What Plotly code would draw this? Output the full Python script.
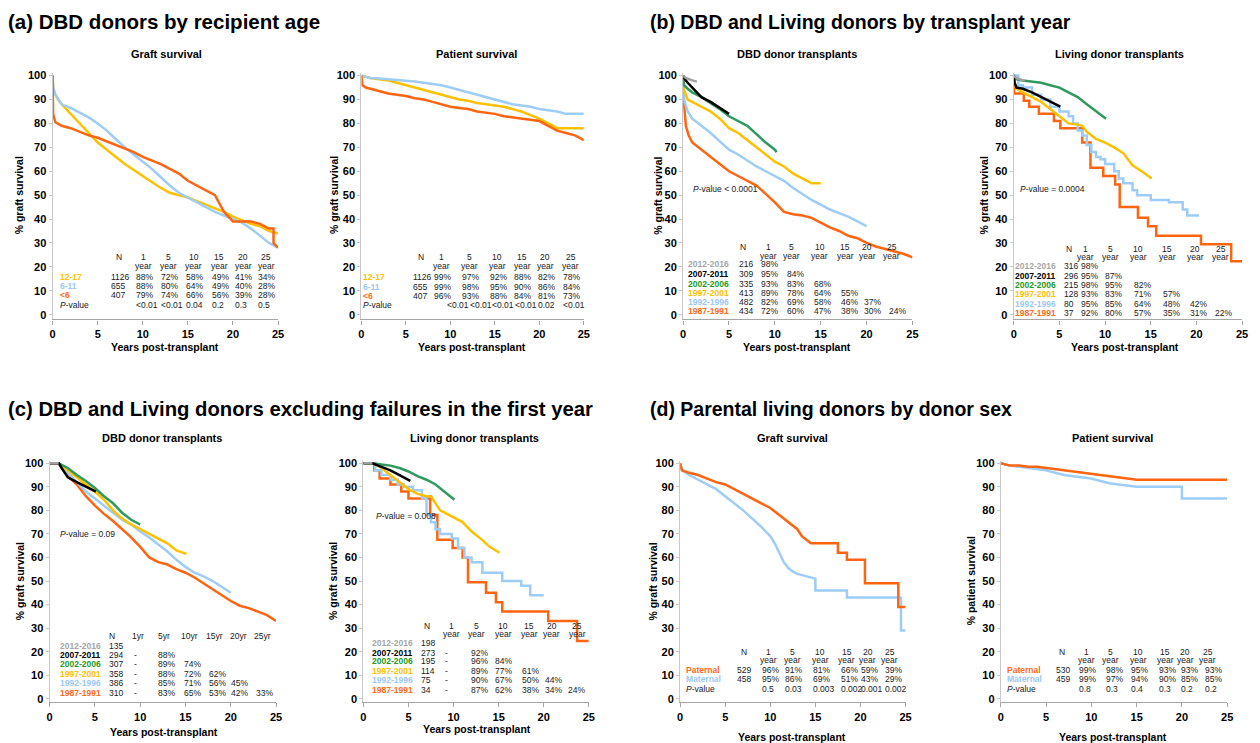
import plotly.graph_objects as go

W, H = 1260, 743
def fx(px): return px / W
def fy(py): return 1 - py / H

FONT = "Liberation Sans, Arial, Helvetica, sans-serif"
C_OR = "#FF6410"; C_BL = "#9DCDF7"; C_YE = "#FFC000"; C_GR = "#2F9A5E"; C_BK = "#000000"; C_GY = "#A0A0A0"
L_OR = "#FF6A1A"; L_BL = "#9CC8F2"; L_YE = "#FFC000"; L_GR = "#1C9A24"; L_BK = "#000000"; L_GY = "#A6A6A6"

# ---------------- data ----------------
x_ticks = [0, 5, 10, 15, 20, 25]
y_ticks = [0, 10, 20, 30, 40, 50, 60, 70, 80, 90, 100]
year_heads = ["1", "5", "10", "15", "20", "25"]
yr_heads = ["1yr", "5yr", "10yr", "15yr", "20yr", "25yr"]

# (a) DBD donors by recipient age - graft survival
a_graft_t_1217 = [0, 0.05, 0.3, 0.6, 1, 2, 3, 4, 5, 6, 7, 8, 9, 10, 11, 12, 13, 14, 15, 16, 17, 18, 19, 20, 21, 22, 23, 24, 25]
a_graft_v_1217 = [100, 95, 92, 90, 88, 84, 80, 76, 72, 69, 66, 63, 60.5, 58, 55.5, 53, 51, 50, 49, 47.5, 46, 44.5, 43, 41, 39.5, 38, 37, 35, 34]
a_graft_t_611 = [0, 0.05, 0.3, 1, 2, 3, 4, 5, 6, 7, 8, 9, 10, 11, 12, 13, 14, 15, 16, 17, 18, 19, 20, 21, 22, 23, 24, 25]
a_graft_v_611 = [100, 95, 92, 88, 86.5, 84.5, 82.5, 80, 77, 73.5, 70, 67, 64, 61, 57.5, 54, 51, 49, 47, 45, 43, 41.5, 40, 38.5, 36, 33, 30, 28]
a_graft_t_lt6 = [0, 0.05, 0.3, 1, 2, 3, 4, 5, 6, 7, 8, 9, 10, 11, 12, 13, 14, 15, 16, 17, 18, 18.5, 19, 19.5, 20, 21, 22, 23, 24, 24.5, 24.5, 25]
a_graft_v_lt6 = [100, 84, 80.5, 79, 78, 76.5, 75, 74, 72.5, 71, 69.5, 68, 66, 64.5, 63, 61, 59, 56, 54, 52, 50, 46.5, 43, 41, 39, 39, 39, 38, 36, 36, 30, 28]

# (a) patient survival
a_pat_t_1217 = [0, 0.5, 1, 2, 3, 4, 5, 6, 7, 8, 9, 10, 11, 12, 13, 14, 15, 16, 17, 18, 19, 20, 21, 22, 23, 24, 25]
a_pat_v_1217 = [100, 99.5, 99, 98.5, 98, 97, 96, 95, 94, 93, 92, 91, 90, 89.5, 88.5, 88, 87.5, 87, 86, 85, 83.5, 82, 80, 78, 78, 78, 78]
a_pat_t_611 = [0, 0.5, 1, 2, 3, 4, 5, 6, 7, 8, 9, 10, 11, 12, 13, 14, 15, 16, 17, 18, 19, 20, 21, 22, 23, 24, 25]
a_pat_v_611 = [100, 99.5, 99, 98.8, 98.5, 98.2, 98, 97.5, 97, 96.5, 96, 95, 94, 93, 92, 91, 90, 89, 88, 87.5, 87, 86, 85.5, 85, 84, 84, 84]
a_pat_t_lt6 = [0, 0.1, 0.5, 1, 2, 3, 4, 5, 6, 7, 8, 9, 10, 11, 12, 13, 14, 15, 16, 17, 18, 19, 20, 21, 22, 23, 24, 25]
a_pat_v_lt6 = [100, 96, 95, 94.5, 93.5, 92.5, 92, 91.5, 90.5, 90, 89, 88, 87, 86.5, 86, 85, 84.5, 84, 83, 82.5, 82, 81.5, 81, 79, 77, 76, 75, 73]

# (b) DBD donor transplants by era
b_dbd_t_8791 = [0, 0.1, 0.3, 0.6, 1, 2, 3, 4, 5, 6, 7, 8, 9, 10, 11, 12, 13, 14, 15, 16, 17, 18, 19, 20, 21, 22, 23, 24, 25]
b_dbd_v_8791 = [100, 88, 79, 75, 72, 69, 66, 63, 60, 58, 56, 54, 50.5, 47, 43, 42, 41.5, 40.5, 38.5, 36.5, 35, 33, 32, 30, 28.5, 27.5, 26.5, 25.5, 24]
b_dbd_t_9296 = [0, 0.1, 0.5, 1, 2, 3, 4, 5, 6, 7, 8, 9, 10, 11, 12, 13, 14, 15, 16, 17, 18, 19, 20]
b_dbd_v_9296 = [100, 90, 85, 82, 79, 76, 72.5, 69, 67, 64.5, 62, 60, 58, 56, 53, 50.5, 48, 46, 44, 42.5, 41, 39, 37]
b_dbd_t_9701 = [0, 0.1, 0.5, 1, 2, 3, 4, 5, 6, 7, 8, 9, 10, 11, 12, 13, 14, 15]
b_dbd_v_9701 = [100, 94, 90, 89, 87, 85, 82, 78, 76, 73, 70, 67, 64, 62, 59, 57, 55, 55]
b_dbd_t_0206 = [0, 0.1, 0.5, 1, 2, 3, 4, 5, 6, 7, 8, 9, 10, 10.2]
b_dbd_v_0206 = [100, 96, 94.5, 93, 91, 88.5, 86, 83, 81, 79, 75.5, 72, 69, 68]
b_dbd_t_0711 = [0, 0.2, 0.5, 1, 1.5, 2, 3, 4, 5]
b_dbd_v_0711 = [100, 98.5, 97, 95, 93, 91, 89, 86.5, 84]
b_dbd_t_1216 = [0, 0.3, 1, 1.5]
b_dbd_v_1216 = [100, 99, 98, 97.5]

# (b) Living donor transplants by era
b_liv_t_8791 = [0, 0.05, 1.1, 1.7, 2.75, 4.4, 5.1, 7.5, 8.4, 9.8, 11.1, 11.6, 13.6, 14.7, 15.6, 20.5, 23.8, 25]
b_liv_v_8791 = [100, 92.5, 89.5, 87, 84, 81, 78, 72, 61.5, 58, 54.5, 45, 40.5, 37, 33, 29.5, 22.3, 22.3]
b_liv_t_9296 = [0, 0.5, 1, 2, 3, 4, 5, 6, 6.5, 7, 7.5, 8, 8.5, 9, 9.5, 10, 11, 11.5, 12, 13, 13.5, 15, 17, 18.5, 19, 20.3]
b_liv_v_9296 = [100, 96, 95, 92, 90, 87, 85, 83, 80, 77, 75, 71, 68, 66, 65, 63, 60, 57, 55, 52, 50, 48, 47, 44, 41.5, 41.5]
b_liv_t_9701 = [0, 0.1, 0.5, 1, 2, 3, 4, 5, 6, 7, 7.5, 8, 9, 10, 11, 12, 13, 14, 15.1]
b_liv_v_9701 = [100, 96, 94, 93, 91, 89, 86, 83, 80, 79.5, 79, 76.5, 73.5, 72, 70, 67.5, 62.5, 60, 57]
b_liv_t_0206 = [0, 0.3, 1, 2, 3, 4, 5, 6, 7, 8, 9, 10.1]
b_liv_v_0206 = [100, 98.5, 98, 97.5, 97, 96, 95, 93, 91, 88, 85, 82]
b_liv_t_0711 = [0, 0.1, 0.3, 1, 2, 3, 4, 5.1]
b_liv_v_0711 = [100, 97, 95, 94.5, 93, 91, 89, 87]
b_liv_t_1216 = [0, 0.3, 1, 1.2]
b_liv_v_1216 = [100, 99, 98, 98]

# (c) DBD excluding first-year failures
c_dbd_t_8791 = [0, 1, 1.5, 2, 3, 4, 5, 6, 7, 8, 9, 10, 11, 12, 13, 14, 15, 16, 17, 18, 19, 20, 21, 22, 23, 24, 25]
c_dbd_v_8791 = [100, 100, 97, 94.5, 91, 86, 82, 78.5, 75.5, 72, 68.5, 64.5, 60, 58, 57, 55, 53.5, 51.5, 49, 46.5, 44, 41.5, 39.5, 38.5, 37, 35.5, 33]
c_dbd_t_9296 = [0, 1, 2, 3, 4, 5, 6, 7, 8, 9, 10, 11, 12, 13, 14, 15, 16, 17, 18, 19, 20]
c_dbd_v_9296 = [100, 100, 96, 92, 88, 85, 82, 79, 76, 74, 71, 68.5, 65.5, 62.5, 59, 56, 53.5, 52, 50, 47.5, 45]
c_dbd_t_9701 = [0, 1, 2, 3, 4, 5, 6, 7, 8, 9, 10, 11, 12, 13, 14, 15.1]
c_dbd_v_9701 = [100, 100, 97, 94, 91, 88, 84.5, 80, 76.5, 74, 72, 70, 68, 66, 63, 61.5]
c_dbd_t_0206 = [0, 1, 2, 3, 4, 5, 6, 7, 8, 9, 10]
c_dbd_v_0206 = [100, 100, 98, 95, 92.5, 89.5, 86, 83, 79, 76, 74]
c_dbd_t_0711 = [0, 1, 1.5, 2, 3, 4, 5.1]
c_dbd_v_0711 = [100, 100, 97, 94, 92, 90, 88]
c_dbd_t_1216 = [0, 1]
c_dbd_v_1216 = [100, 100]

# (c) Living excluding first-year failures
c_liv_t_8791 = [0, 1, 1.2, 1.8, 3, 4.2, 5, 7.4, 8.2, 9.9, 11, 11.6, 13.6, 14.7, 15.4, 20.5, 23.7, 25]
c_liv_v_8791 = [100, 100, 97, 93.5, 91, 88, 85, 78, 67.5, 64, 60, 49.5, 45, 41, 37, 33, 24.5, 24.5]
c_liv_t_9296 = [0, 1, 1.3, 2, 3, 3.8, 4.5, 5.5, 6.5, 7, 7.5, 8, 8.5, 9.8, 10.5, 11.2, 12, 13.2, 15.4, 17.5, 18.5, 20]
c_liv_v_9296 = [100, 100, 97, 95, 93, 91, 90, 88.5, 85, 78, 75, 72, 70, 68, 64, 60, 58, 53.5, 50, 48, 44, 44]
c_liv_t_9701 = [0, 1, 2, 3, 4, 5, 6, 7, 7.5, 8, 8.5, 9, 10, 11, 12, 13, 14, 15.1]
c_liv_v_9701 = [100, 100, 98, 95, 92, 89, 87, 86, 86, 83, 80, 79, 77, 75, 71, 68, 64.5, 62]
c_liv_t_0206 = [0, 1, 2, 3, 4, 5, 6, 7, 8, 9, 10.1]
c_liv_v_0206 = [100, 100, 99.5, 99, 98, 96.5, 94.5, 93, 91, 88, 84.5]
c_liv_t_0711 = [0, 1, 2, 3, 4, 5.2]
c_liv_v_0711 = [100, 100, 98.5, 97, 95, 92.5]
c_liv_t_1216 = [0, 1]
c_liv_v_1216 = [100, 100]

# (d) Parental living donors by donor sex
d_graft_t_pat = [0, 0.2, 1, 2, 3, 4, 5, 6, 7, 8, 9, 10, 11, 12, 13, 13.5, 14.5, 14.5, 17.5, 17.5, 18.5, 18.5, 20.5, 20.5, 24.2, 24.2, 25]
d_graft_v_pat = [100, 97, 96, 95, 93.5, 92, 91, 89, 87, 85, 83, 81, 78, 75, 72, 69, 66, 66, 66, 62, 62, 59, 59, 49, 49, 39, 39]
d_graft_t_mat = [0, 0.2, 1, 2, 3, 4, 5, 6, 7, 8, 9, 10, 10.5, 11, 11.5, 12, 12.5, 13, 14, 15, 15, 18.5, 18.5, 24.5, 24.5, 25]
d_graft_v_mat = [100, 97, 95, 93, 91, 89, 86, 83, 80, 76.5, 73, 69, 66, 62, 58, 55.5, 54, 53, 52, 51, 46, 46, 43, 43, 29, 29]
d_pat_t_pat = [0, 1, 2, 3, 4, 5, 6, 7, 8, 9, 10, 11, 12, 13, 14, 15, 25]
d_pat_v_pat = [100, 99, 99, 98.5, 98.5, 98, 97.5, 97, 96.5, 96, 95.5, 95, 94.5, 94, 93.5, 93, 93]
d_pat_t_mat = [0, 1, 2, 3, 4, 5, 6, 7, 8, 9, 10, 11, 12, 13, 14, 15, 20, 20, 25]
d_pat_v_mat = [100, 99, 98.5, 98, 97.5, 97, 96, 95, 94.5, 94, 93.5, 92.5, 91.5, 91, 90.5, 90, 90, 85, 85]

# ---- tables ----
age_groups = ["12-17", "6-11", "<6"]
a_graft_N = ["1126", "655", "407"]
a_graft_pct = [["88%", "72%", "58%", "49%", "41%", "34%"], ["88%", "80%", "64%", "49%", "40%", "28%"], ["79%", "74%", "66%", "56%", "39%", "28%"]]
a_graft_p = ["<0.01", "<0.01", "0.04", "0.2", "0.3", "0.5"]
a_pat_N = ["1126", "655", "407"]
a_pat_pct = [["99%", "97%", "92%", "88%", "82%", "78%"], ["99%", "98%", "95%", "90%", "86%", "84%"], ["96%", "93%", "88%", "84%", "81%", "73%"]]
a_pat_p = ["<0.01", "<0.01", "<0.01", "<0.01", "0.02", "<0.01"]

eras = ["2012-2016", "2007-2011", "2002-2006", "1997-2001", "1992-1996", "1987-1991"]
b_dbd_N = ["216", "309", "335", "413", "482", "434"]
b_dbd_pct = [["98%"], ["95%", "84%"], ["93%", "83%", "68%"], ["89%", "78%", "64%", "55%"], ["82%", "69%", "58%", "46%", "37%"], ["72%", "60%", "47%", "38%", "30%", "24%"]]
b_liv_N = ["316", "296", "215", "128", "80", "37"]
b_liv_pct = [["98%"], ["95%", "87%"], ["98%", "95%", "82%"], ["93%", "83%", "71%", "57%"], ["95%", "85%", "64%", "48%", "42%"], ["92%", "80%", "57%", "35%", "31%", "22%"]]
c_dbd_N = ["135", "294", "307", "358", "386", "310"]
c_dbd_pct = [[], ["-", "88%"], ["-", "89%", "74%"], ["-", "88%", "72%", "62%"], ["-", "85%", "71%", "56%", "45%"], ["-", "83%", "65%", "53%", "42%", "33%"]]
c_liv_N = ["198", "273", "195", "114", "75", "34"]
c_liv_pct = [[], ["-", "92%"], ["-", "96%", "84%"], ["-", "89%", "77%", "61%"], ["-", "90%", "67%", "50%", "44%"], ["-", "87%", "62%", "38%", "34%", "24%"]]

sex_groups = ["Paternal", "Maternal"]
d_graft_N = ["529", "458"]
d_graft_pct = [["96%", "91%", "81%", "66%", "59%", "39%"], ["95%", "86%", "69%", "51%", "43%", "29%"]]
d_graft_p = ["0.5", "0.03", "0.003", "0.002", "0.001", "0.002"]
d_pat_N = ["530", "459"]
d_pat_pct = [["99%", "98%", "95%", "93%", "93%", "93%"], ["99%", "97%", "94%", "90%", "85%", "85%"]]
d_pat_p = ["0.8", "0.3", "0.4", "0.3", "0.2", "0.2"]

# ---------------- figure ----------------
fig = go.Figure()

age_lbl = [L_YE, L_BL, L_OR]
era_lbl = [L_GY, L_BK, L_GR, L_YE, L_BL, L_OR]

panels = [
    dict(x0=50, x1=277, row="top", curves=[(a_graft_t_1217, a_graft_v_1217, C_YE, "linear"), (a_graft_t_611, a_graft_v_611, C_BL, "linear"), (a_graft_t_lt6, a_graft_v_lt6, C_OR, "linear")]),
    dict(x0=361, x1=585, row="top", curves=[(a_pat_t_1217, a_pat_v_1217, C_YE, "linear"), (a_pat_t_611, a_pat_v_611, C_BL, "linear"), (a_pat_t_lt6, a_pat_v_lt6, C_OR, "linear")]),
    dict(x0=685, x1=916, row="top", curves=[(b_dbd_t_8791, b_dbd_v_8791, C_OR, "linear"), (b_dbd_t_9296, b_dbd_v_9296, C_BL, "linear"), (b_dbd_t_9701, b_dbd_v_9701, C_YE, "linear"), (b_dbd_t_0206, b_dbd_v_0206, C_GR, "linear"), (b_dbd_t_0711, b_dbd_v_0711, C_BK, "linear"), (b_dbd_t_1216, b_dbd_v_1216, C_GY, "linear")]),
    dict(x0=1018, x1=1248, row="top", curves=[(b_liv_t_8791, b_liv_v_8791, C_OR, "hv"), (b_liv_t_9296, b_liv_v_9296, C_BL, "hv"), (b_liv_t_9701, b_liv_v_9701, C_YE, "linear"), (b_liv_t_0206, b_liv_v_0206, C_GR, "linear"), (b_liv_t_0711, b_liv_v_0711, C_BK, "linear"), (b_liv_t_1216, b_liv_v_1216, C_GY, "linear")]),
    dict(x0=47, x1=275, row="bot", curves=[(c_dbd_t_8791, c_dbd_v_8791, C_OR, "linear"), (c_dbd_t_9296, c_dbd_v_9296, C_BL, "linear"), (c_dbd_t_9701, c_dbd_v_9701, C_YE, "linear"), (c_dbd_t_0206, c_dbd_v_0206, C_GR, "linear"), (c_dbd_t_0711, c_dbd_v_0711, C_BK, "linear"), (c_dbd_t_1216, c_dbd_v_1216, C_GY, "linear")]),
    dict(x0=363, x1=590, row="bot", curves=[(c_liv_t_8791, c_liv_v_8791, C_OR, "hv"), (c_liv_t_9296, c_liv_v_9296, C_BL, "hv"), (c_liv_t_9701, c_liv_v_9701, C_YE, "linear"), (c_liv_t_0206, c_liv_v_0206, C_GR, "linear"), (c_liv_t_0711, c_liv_v_0711, C_BK, "linear"), (c_liv_t_1216, c_liv_v_1216, C_GY, "linear")]),
    dict(x0=682, x1=909, row="bot", curves=[(d_graft_t_mat, d_graft_v_mat, C_BL, "linear"), (d_graft_t_pat, d_graft_v_pat, C_OR, "linear")]),
    dict(x0=1005, x1=1233, row="bot", curves=[(d_pat_t_mat, d_pat_v_mat, C_BL, "linear"), (d_pat_t_pat, d_pat_v_pat, C_OR, "linear")]),
]

tick_font = dict(family=FONT, size=11, color="#000000", weight="bold")
for i, p in enumerate(panels):
    idx = "" if i == 0 else str(i + 1)
    if p["row"] == "top":
        s, z, lo, hi = 2.41, 313.2, -2, 101
    else:
        s, z, lo, hi = 2.374, 700.4, -1.5, 101
    ytop = z - hi * s
    ybot = z - lo * s
    fig.update_layout(**{
        "xaxis" + idx: dict(domain=[fx(p["x0"]), fx(p["x1"])], range=[0, 25], anchor="y" + idx,
                            showline=True, linecolor="#A6A6A6", linewidth=1.2, ticks="outside", ticklen=4,
                            tickcolor="#A6A6A6", tickvals=x_ticks, showgrid=False, zeroline=False,
                            tickfont=tick_font, fixedrange=True),
        "yaxis" + idx: dict(domain=[fy(ybot), fy(ytop)], range=[lo, hi], anchor="x" + idx,
                            showline=True, linecolor="#C8C8C8", linewidth=1.2, ticks="outside", ticklen=3,
                            tickcolor="#C8C8C8", tickvals=y_ticks, showgrid=False, zeroline=False,
                            tickfont=tick_font, fixedrange=True),
    })
    for (t, v, col, shape) in p["curves"]:
        fig.add_trace(go.Scatter(x=t, y=v, mode="lines", line=dict(color=col, width=2.5, shape=shape),
                                 xaxis="x" + idx, yaxis="y" + idx, showlegend=False, hoverinfo="skip"))

TS = 8.5  # table font size


def txt(x, y, text, size=TS, color="#1a1a1a", anchor="left", bold=False, angle=0, yanchor="middle"):
    if bold:
        text = "<b>" + text + "</b>"
    fig.add_annotation(x=fx(x), y=fy(y), xref="paper", yref="paper", text=text, showarrow=False,
                       xanchor=anchor, yanchor=yanchor, textangle=angle, borderpad=0,
                       font=dict(family=FONT, size=size, color=color))


# titles
txt(4, 18, "(a) DBD donors by recipient age", size=20.5, color="#000", bold=True)
txt(651, 18, "(b) DBD and Living donors by transplant year", size=19.5, color="#000", bold=True)
txt(4, 408, "(c) DBD and Living donors excluding failures in the first year", size=20.3, color="#000", bold=True)
txt(651, 408, "(d) Parental living donors by donor sex", size=19.5, color="#000", bold=True)

subs = [(165, 50, "Graft survival"), (477, 50, "Patient survival"), (800, 50, "DBD donor transplants"),
        (1125, 50, "Living donor transplants"), (160, 438, "DBD donor transplants"),
        (475, 438, "Living donor transplants"), (795, 438, "Graft survival"), (1117, 438, "Patient survival")]
for (x, y, s_) in subs:
    txt(x, y, s_, size=11, color="#000", anchor="center", bold=True)

ytitles = [(17, 193, "% graft survival"), (334, 193, "% graft survival"), (660, 193, "% graft survival"),
           (988, 193, "% graft survival"), (17, 582, "% graft survival"), (333, 582, "% graft survival"),
           (655, 582, "% graft survival"), (975, 582, "% patient survival")]
for (x, y, s_) in ytitles:
    txt(x, y, s_, size=10.5, color="#000", anchor="center", bold=True, angle=-90)

xtitles = [(163, 346), (472, 346), (800, 346), (1130, 346), (162, 734), (477, 731), (795, 739), (1118, 739)]
for (x, y) in xtitles:
    txt(x, y, "Years post-transplant", size=10.5, color="#000", anchor="center", bold=True)

# p-value notes
txt(694, 187, "<i>P</i>-value < 0.0001", size=8.5)
txt(1023, 187, "<i>P</i>-value = 0.0004", size=8.5)
txt(56, 534, "<i>P</i>-value = 0.09", size=8.5)
txt(375, 516, "<i>P</i>-value = 0.008", size=8.5)


def table(lbl_x, labels, lbl_colors, rows_y, n_x, Ns, col_x, vals, head_y, n_head_x, head_x, heads,
          year_y=None, p_y=None, p_x=None, p_vals=None):
    txt(n_head_x, head_y, "N", anchor="center")
    for hx, h in zip(head_x, heads):
        txt(hx, head_y, h, anchor="center")
        if year_y is not None:
            txt(hx, year_y, "year", anchor="center")
    for r, (lab, lc, ry) in enumerate(zip(labels, lbl_colors, rows_y)):
        txt(lbl_x, ry, lab, color=lc, bold=True)
        txt(n_x, ry, Ns[r])
        for cx, v in zip(col_x, vals[r]):
            txt(cx, ry, v)
    if p_vals is not None:
        txt(lbl_x, p_y, "<i>P</i>-value")
        for px_, pv in zip(p_x, p_vals):
            txt(px_, p_y, pv)


# (a) tables
table(56, age_groups, age_lbl, [275, 284.3, 293.3], 108, a_graft_N, [133, 158, 183, 209, 233, 256], a_graft_pct,
      255, 117, [142, 167, 192, 218, 242, 265], year_heads, year_y=264,
      p_y=303.3, p_x=[133, 158, 183, 209, 233, 256], p_vals=a_graft_p)
table(362, age_groups, age_lbl, [275, 285, 294], 412, a_pat_N, [433, 461, 489, 514, 538, 563], a_pat_pct,
      255, 421, [442, 470, 498, 523, 546, 572], year_heads, year_y=264,
      p_y=303.3, p_x=[446, 469.5, 492, 514.5, 538, 563], p_vals=a_pat_p)
# (b) tables
table(689, eras, era_lbl, [262.3, 272.3, 282.3, 291, 300.7, 310], 740, b_dbd_N, [762, 789, 816, 843, 866, 891], b_dbd_pct,
      245, 745, [770.7, 794.3, 822.7, 848.3, 870.7, 895], year_heads, year_y=254)
table(1018, eras, era_lbl, [264.3, 274, 283.3, 292.7, 302, 311.7], 1068, b_liv_N, [1085, 1109, 1138, 1167, 1195, 1220], b_liv_pct,
      246.7, 1074, [1090.7, 1115, 1143.3, 1172.7, 1201, 1226.7], year_heads, year_y=255)
# (c) tables
table(56, eras, era_lbl, [647.7, 656.7, 665.7, 675.3, 685, 695], 106, c_dbd_N, [131, 155, 181, 206, 229, 254], c_dbd_pct,
      637.3, 110, [136, 161.7, 188.3, 213.3, 236.7, 261.7], yr_heads)
table(371, eras, era_lbl, [644.3, 654, 662.7, 672.7, 681.7, 691.7], 420, c_liv_N, [444, 470, 495, 522, 545, 568], c_liv_pct,
      626.7, 426.7, [451.7, 476.7, 504, 530, 552.7, 578.3], year_heads, year_y=635)
# (d) tables
table(687, sex_groups, [L_OR, L_BL], [671.7, 680.7], 738, d_graft_N, [763, 787, 815, 843, 863, 887], d_graft_pct,
      653.3, 746.7, [770.7, 795, 823.3, 850, 871, 893.3], year_heads, year_y=661.7,
      p_y=690.7, p_x=[763, 787, 815, 843, 863, 887], p_vals=d_graft_p)
table(1010, sex_groups, [L_OR, L_BL], [671.7, 680.7], 1060, d_pat_N, [1083, 1110, 1135, 1163, 1185, 1210], d_pat_pct,
      653.3, 1066.7, [1091.7, 1115, 1143.3, 1170.7, 1190.7, 1213.3], year_heads, year_y=661.7,
      p_y=690.7, p_x=[1083, 1110, 1135, 1163, 1185, 1210], p_vals=d_pat_p)

fig.update_layout(width=W, height=H, margin=dict(l=0, r=0, t=0, b=0), paper_bgcolor="white",
                  plot_bgcolor="white", showlegend=False, font=dict(family=FONT))

fig.write_html("out.html", post_script="document.body.style.margin='0';", config={"displayModeBar": False})
